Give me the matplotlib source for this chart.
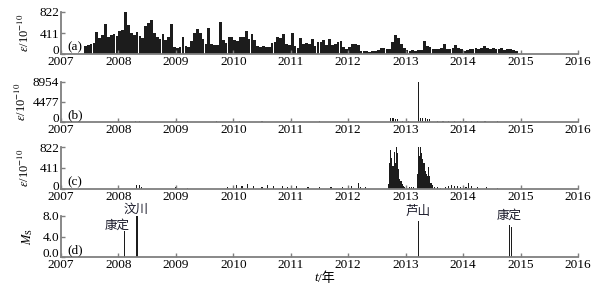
import numpy as np
import matplotlib
matplotlib.use("Agg")
import matplotlib.pyplot as plt
from matplotlib.transforms import ScaledTranslation

plt.rcParams['font.family'] = ['Liberation Serif', 'Noto Sans CJK SC']
plt.rcParams['mathtext.fontset'] = 'stix'

# ---------------- data ----------------
years = [2007, 2008, 2009, 2010, 2011, 2012, 2013, 2014, 2015, 2016]

# panel (a): strain series at 0.05-year steps starting 2007.40
a_start = 2007.40
a_step = 0.05
a_vals = [
    160, 180, 190, 220, 430, 320, 370, 580, 330, 380, 400, 350,            # 2007.40-2007.95
    450, 470, 822, 560, 420, 380, 440, 360, 310, 540,                      # 2008.00-2008.45
    600, 660, 420, 330, 300, 400, 280, 330, 580, 140,                      # 2008.50-2008.95
    110, 130, 340, 150, 130, 250, 408, 480, 420, 300,                      # 2009.00-2009.45
    200, 516, 190, 170, 180, 634, 275, 210, 340, 330,                      # 2009.50-2009.95
    280, 260, 340, 330, 450, 300, 400, 280, 160, 130,                      # 2010.00-2010.45
    150, 140, 130, 210, 230, 340, 310, 390, 200, 170,                      # 2010.50-2010.95
    408, 150, 120, 310, 200, 210, 200, 300, 160, 240,                      # 2011.00-2011.45
    230, 270, 170, 287, 180, 200, 240, 254, 130, 100,                      # 2011.50-2011.95
    140, 190, 200, 176, 60, 50, 60, 45, 50, 60,                            # 2012.00-2012.45
    70, 125, 110, 90, 100, 240, 370, 310, 200, 120,                        # 2012.50-2012.95
    70, 60, 70, 60, 75, 80, 254, 160, 140, 100,                            # 2013.00-2013.45
    90, 100, 110, 190, 100, 90, 110, 176, 120, 90,                         # 2013.50-2013.95
    60, 80, 90, 100, 110, 100, 110, 150, 110, 100,                         # 2014.00-2014.45
    110, 100, 90, 110, 80, 100, 90, 70, 50,                                # 2014.50-2014.90
]

# panel (b): strain events
b_times = [2008.00, 2008.30, 2008.36, 2009.00, 2009.20, 2009.70, 2010.10, 2010.50,
           2011.00, 2011.50, 2012.00, 2012.74, 2012.78, 2012.82, 2012.86, 2012.95,
           2013.05, 2013.22, 2013.26, 2013.30, 2013.34, 2013.38, 2013.42, 2013.55,
           2013.65, 2013.75, 2013.85, 2013.95, 2014.05, 2014.15, 2014.25, 2014.38,
           2014.60]
b_vals = [200, 250, 300, 200, 250, 150, 200, 150,
          150, 150, 200, 900, 800, 700, 600, 250,
          250, 8954, 1000, 800, 900, 700, 600, 250,
          300, 250, 300, 250, 250, 300, 250, 250,
          250]

# panel (c): strain events
c_times = [2008.32, 2008.36, 2008.40, 2009.00, 2009.20, 2009.90, 2010.00, 2010.05,
           2010.15, 2010.25, 2010.35, 2010.50, 2010.60, 2010.70, 2010.85, 2010.95,
           2011.10, 2011.30, 2011.50, 2011.70, 2011.90, 2012.05, 2012.18, 2012.22,
           2012.30,
           2012.70, 2012.72, 2012.74, 2012.76, 2012.78, 2012.80, 2012.82, 2012.84,
           2012.86, 2012.88, 2012.90, 2012.92, 2012.94, 2012.96, 2012.98, 2013.02,
           2013.06, 2013.10, 2013.14,
           2013.20, 2013.22, 2013.24, 2013.26, 2013.28, 2013.30, 2013.32, 2013.34,
           2013.36, 2013.38, 2013.40, 2013.42, 2013.44, 2013.46, 2013.50, 2013.55,
           2013.60, 2013.70, 2013.75, 2013.80, 2013.85, 2013.90, 2013.95, 2014.00,
           2014.05, 2014.10, 2014.15, 2014.25, 2014.40, 2014.60]
c_vals = [70, 85, 40, 30, 25, 40, 60, 80,
          50, 90, 60, 40, 70, 50, 60, 40,
          50, 40, 30, 40, 30, 50, 110, 40,
          30,
          100, 500, 765, 600, 450, 730, 500, 822,
          700, 400, 200, 150, 100, 60, 40, 30,
          40, 30, 30,
          300, 822, 650, 822, 700, 580, 500, 350,
          300, 250, 430, 250, 120, 80, 40, 30,
          20, 40, 60, 70, 65, 60, 40, 30,
          40, 115, 50, 30, 30, 25]

# panel (d): earthquakes
eq_times = [2008.11, 2008.32, 2013.22, 2014.81, 2014.84]
eq_mags = [5.0, 8.0, 7.0, 6.3, 5.8]
eq_names = ['康定', '汶川', '芦山', '康定']
eq_label_x = [2007.98, 2008.30, 2013.22, 2014.80]
eq_label_y = [6.1, 9.2, 8.8, 8.2]

# ---------------- drawing ----------------
fig = plt.figure(figsize=(6.09, 2.92), dpi=100)

left = 61 / 609
width = (578 - 61) / 609
H = 292

def make_ax(top_px, bot_px):
    return fig.add_axes([left, (H - bot_px) / H, width, (bot_px - top_px) / H])

spine_color = '#7f7f7f'
bar_color = '#1c1c1c'
fs = 9.5

def style(ax, ylim, yticks, yticklabels, ylabel, tag, ylab_x, zero_shift):
    ax.set_xlim(2007, 2016)
    ax.set_ylim(*ylim)
    ax.set_xticks(years)
    ax.set_xticklabels([str(y) for y in years], fontsize=fs)
    ax.set_yticks(yticks)
    ax.set_yticklabels(yticklabels, fontsize=fs)
    for s in ['top', 'right']:
        ax.spines[s].set_visible(False)
    for s in ['left', 'bottom']:
        ax.spines[s].set_color(spine_color)
        ax.spines[s].set_linewidth(1.3)
    ax.tick_params(direction='in', length=3, width=1.0, color=spine_color,
                   pad=1.5, labelsize=fs)
    ax.set_ylabel(ylabel, fontsize=9, labelpad=1)
    ax.yaxis.set_label_coords(ylab_x, 0.5)
    ax.text(0.012, 0.02, tag, transform=ax.transAxes, fontsize=fs,
            ha='left', va='bottom')
    ax.patch.set_alpha(0)
    # lift the "0" label slightly above the x axis, as in the reference
    lab0 = ax.yaxis.get_major_ticks()[0].label1
    lab0.set_transform(lab0.get_transform() +
                       ScaledTranslation(0, zero_shift / 100, fig.dpi_scale_trans))

eps_label = r'$\varepsilon$/10$^{-10}$'

# (a)
ax_a = make_ax(12, 54)
a_t = a_start + a_step * np.arange(len(a_vals))
ax_a.bar(a_t, a_vals, width=a_step * 0.95, align='edge', color=bar_color, linewidth=0)
style(ax_a, (0, 822), [0, 411, 822], ['0', '411', '822'], eps_label, '(a)', -0.056, 4)

# (b)
ax_b = make_ax(82, 122)
ax_b.bar(b_times, b_vals, width=0.02, color=bar_color, linewidth=0)
style(ax_b, (0, 8954), [0, 4477, 8954], ['0', '4477', '8954'], eps_label, '(b)', -0.062, 4)

# (c)
ax_c = make_ax(147, 189)
ax_c.bar(c_times, c_vals, width=0.02, color=bar_color, linewidth=0)
style(ax_c, (0, 822), [0, 411, 822], ['0', '411', '822'], eps_label, '(c)', -0.056, 4)

# (d)
ax_d = make_ax(216, 257)
ax_d.bar(eq_times, eq_mags, width=0.025, color=bar_color, linewidth=0)
style(ax_d, (0, 8.0), [0, 4, 8], ['0.0', '4.0', '8.0'], r'$M_{\rm S}$', '(d)', -0.05, 4.5)
for name, x, y in zip(eq_names, eq_label_x, eq_label_y):
    ax_d.text(x, y, name, fontsize=9, ha='center', va='center',
              family=['Noto Sans CJK SC'], color='#1a1a2a', clip_on=False)

# x label: italic t followed by "/年"
ax_d.annotate('t', xy=(0.5, 0), xycoords='axes fraction', xytext=(-1, -11),
              textcoords='offset points', ha='right', va='top',
              fontsize=fs, style='italic', family=['Liberation Serif'])
ax_d.annotate('/年', xy=(0.5, 0), xycoords='axes fraction', xytext=(-1, -11),
              textcoords='offset points', ha='left', va='top',
              fontsize=fs, family=['Liberation Serif', 'Noto Sans CJK SC'])

fig.savefig('out.png', dpi=100)
